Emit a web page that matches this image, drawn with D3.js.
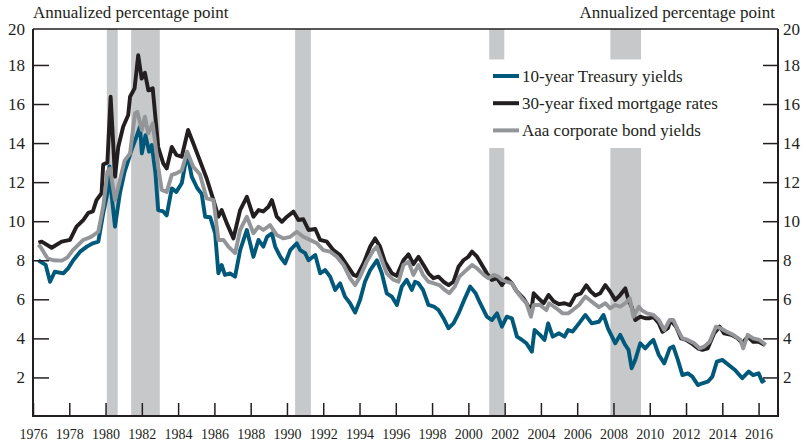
<!DOCTYPE html>
<html>
<head>
<meta charset="utf-8">
<script src="https://cdn.jsdelivr.net/npm/d3@7"></script>
<style>
    body { margin: 0; background: #fff; }
    text { font-family: 'Liberation Serif', 'Times New Roman', serif; fill: #231f20; }
</style>
</head>
<body>
<div id="chart"></div>
<script>
// [year, percent]
const treasury = [
    [1976.3, 8.0], [1976.4, 7.93], [1976.7, 7.76], [1976.94, 6.9], [1977.2, 7.41], [1977.67, 7.33], [1977.95, 7.6],
    [1978.22, 8.0], [1978.6, 8.44], [1978.97, 8.7], [1979.3, 8.87], [1979.6, 8.95], [1979.87, 10.4], [1980.1, 11.43],
    [1980.22, 12.8], [1980.35, 11.2], [1980.52, 9.72], [1980.79, 11.43], [1981.05, 12.53], [1981.25, 13.1],
    [1981.4, 13.56], [1981.67, 14.24], [1981.9, 14.84], [1982.0, 13.47], [1982.2, 14.4], [1982.4, 13.56],
    [1982.55, 13.9], [1982.75, 12.45], [1982.9, 10.57], [1983.18, 10.5], [1983.37, 10.3], [1983.65, 11.68],
    [1983.9, 11.5], [1984.2, 11.94], [1984.5, 13.47], [1984.75, 12.28], [1985.05, 11.7], [1985.3, 11.4],
    [1985.49, 10.23], [1985.77, 10.2], [1986.04, 9.38], [1986.22, 7.33], [1986.4, 7.76], [1986.58, 7.25],
    [1986.86, 7.33], [1987.14, 7.16], [1987.42, 8.52], [1987.79, 9.55], [1988.15, 8.18], [1988.43, 9.04],
    [1988.7, 8.7], [1988.9, 9.2], [1989.17, 9.38], [1989.35, 8.7], [1989.63, 8.18], [1989.9, 7.84],
    [1990.18, 8.52], [1990.54, 8.87], [1990.73, 8.52], [1991.0, 8.36], [1991.19, 8.0], [1991.56, 8.27],
    [1991.83, 7.33], [1992.1, 7.5], [1992.38, 7.16], [1992.66, 6.48], [1992.93, 6.82], [1993.2, 6.14],
    [1993.48, 5.8], [1993.76, 5.32], [1994.03, 5.97], [1994.3, 6.9], [1994.59, 7.5], [1994.96, 8.0],
    [1995.23, 7.33], [1995.5, 6.31], [1995.78, 6.14], [1996.06, 5.71], [1996.33, 6.65], [1996.6, 7.0],
    [1996.88, 6.48], [1997.06, 6.9], [1997.25, 6.82], [1997.5, 6.48], [1997.8, 5.71], [1998.1, 5.63],
    [1998.35, 5.45], [1998.63, 5.03], [1998.9, 4.52], [1999.18, 4.77], [1999.46, 5.28], [1999.73, 5.88],
    [2000.1, 6.65], [2000.4, 6.31], [2000.65, 5.8], [2001.02, 5.11], [2001.3, 4.94], [2001.58, 5.28],
    [2001.85, 4.6], [2002.12, 5.11], [2002.4, 5.03], [2002.68, 4.09], [2002.96, 3.92], [2003.2, 3.75],
    [2003.5, 3.32], [2003.65, 4.43], [2003.95, 4.18], [2004.2, 3.92], [2004.4, 4.77], [2004.65, 4.09],
    [2005.0, 4.26], [2005.3, 4.09], [2005.5, 4.43], [2005.75, 4.35], [2006.1, 4.77], [2006.45, 5.2],
    [2006.8, 4.77], [2007.2, 4.85], [2007.45, 5.2], [2007.7, 4.5], [2008.1, 3.75], [2008.37, 4.18],
    [2008.65, 3.66], [2008.83, 3.41], [2009.0, 2.47], [2009.2, 2.9], [2009.48, 3.75], [2009.75, 3.49],
    [2010.0, 3.75], [2010.2, 3.92], [2010.5, 3.15], [2010.8, 2.72], [2011.1, 3.49], [2011.3, 3.58],
    [2011.55, 2.9], [2011.8, 2.12], [2012.1, 2.21], [2012.35, 2.04], [2012.65, 1.61], [2012.9, 1.7],
    [2013.2, 1.78], [2013.45, 2.04], [2013.7, 2.81], [2014.0, 2.9], [2014.35, 2.64], [2014.7, 2.38],
    [2015.1, 1.96], [2015.45, 2.3], [2015.7, 2.12], [2016.0, 2.21], [2016.2, 1.78], [2016.35, 1.87]
];

const mortgage = [
    [1976.3, 8.9], [1976.48, 8.95], [1977.03, 8.64], [1977.58, 8.95], [1978.04, 9.04], [1978.4, 9.72],
    [1978.77, 10.06], [1979.05, 10.43], [1979.3, 10.5], [1979.5, 11.08], [1979.78, 11.43], [1979.87, 12.9],
    [1980.1, 13.0], [1980.28, 16.37], [1980.52, 12.28], [1980.7, 13.8], [1980.97, 14.84], [1981.25, 15.44],
    [1981.35, 16.37], [1981.6, 16.8], [1981.8, 18.5], [1981.99, 17.3], [1982.17, 17.6], [1982.36, 16.7],
    [1982.6, 16.8], [1982.9, 13.8], [1983.18, 12.96], [1983.37, 12.7], [1983.65, 13.8], [1983.9, 13.4],
    [1984.2, 13.3], [1984.55, 14.67], [1984.83, 14.0], [1985.2, 13.1], [1985.57, 12.2], [1985.95, 11.08],
    [1986.22, 10.23], [1986.4, 10.57], [1986.68, 9.9], [1987.05, 9.12], [1987.42, 10.57], [1987.79, 11.25],
    [1988.15, 10.23], [1988.43, 10.57], [1988.7, 10.5], [1988.98, 10.74], [1989.17, 11.08], [1989.44, 10.23],
    [1989.72, 9.97], [1990.0, 10.23], [1990.36, 10.49], [1990.63, 10.06], [1990.9, 10.1], [1991.19, 9.55],
    [1991.56, 9.6], [1991.83, 9.04], [1992.2, 8.95], [1992.56, 8.52], [1992.93, 8.27], [1993.3, 7.76],
    [1993.67, 7.25], [1993.85, 7.19], [1994.22, 7.84], [1994.59, 8.7], [1994.86, 9.12], [1995.13, 8.7],
    [1995.4, 7.93], [1995.78, 7.33], [1996.05, 7.2], [1996.42, 8.0], [1996.7, 8.3], [1996.97, 7.8],
    [1997.25, 8.18], [1997.53, 7.76], [1997.8, 7.33], [1998.08, 7.08], [1998.35, 7.16], [1998.63, 6.9],
    [1998.91, 6.73], [1999.18, 6.9], [1999.46, 7.67], [1999.73, 8.0], [2000.0, 8.18], [2000.2, 8.44],
    [2000.48, 8.18], [2000.75, 7.76], [2001.02, 7.33], [2001.3, 6.99], [2001.58, 7.08], [2001.85, 6.73],
    [2002.12, 7.08], [2002.4, 6.82], [2002.68, 6.39], [2003.04, 6.05], [2003.32, 5.62], [2003.5, 5.6],
    [2003.6, 6.31], [2003.87, 6.05], [2004.15, 5.8], [2004.42, 6.22], [2004.7, 5.9], [2005.0, 5.75],
    [2005.3, 5.8], [2005.6, 5.7], [2005.9, 6.2], [2006.2, 6.3], [2006.5, 6.72], [2006.75, 6.4],
    [2007.0, 6.2], [2007.27, 6.31], [2007.55, 6.73], [2007.82, 6.39], [2008.1, 5.97], [2008.37, 6.22],
    [2008.65, 6.56], [2008.83, 5.97], [2009.0, 5.62], [2009.2, 4.94], [2009.48, 5.11], [2009.75, 5.03],
    [2010.0, 5.03], [2010.2, 5.11], [2010.5, 4.77], [2010.7, 4.34], [2011.0, 4.52], [2011.15, 4.94],
    [2011.45, 4.6], [2011.73, 4.0], [2012.0, 3.92], [2012.3, 3.75], [2012.65, 3.49], [2012.9, 3.41],
    [2013.2, 3.49], [2013.55, 4.26], [2013.85, 4.6], [2014.1, 4.26], [2014.5, 4.18], [2014.85, 4.0],
    [2015.1, 3.75], [2015.4, 4.09], [2015.7, 3.83], [2016.0, 3.83], [2016.35, 3.66]
];

const aaa = [
    [1976.3, 8.8], [1976.4, 8.7], [1976.8, 8.1], [1977.1, 8.0], [1977.6, 7.98], [1977.9, 8.15], [1978.2, 8.52],
    [1978.77, 9.04], [1979.2, 9.2], [1979.6, 9.46], [1979.87, 10.74], [1980.1, 12.53], [1980.25, 12.7],
    [1980.52, 11.08], [1980.75, 11.94], [1981.05, 13.1], [1981.35, 13.47], [1981.62, 15.52], [1981.75, 15.6],
    [1982.0, 14.67], [1982.17, 15.35], [1982.35, 14.5], [1982.6, 15.0], [1982.9, 12.79], [1983.1, 11.6],
    [1983.37, 11.5], [1983.65, 12.37], [1983.9, 12.45], [1984.2, 12.6], [1984.5, 13.56], [1984.83, 12.79],
    [1985.2, 12.4], [1985.57, 11.17], [1985.95, 11.08], [1986.22, 9.04], [1986.5, 9.04], [1986.77, 8.7],
    [1987.14, 8.36], [1987.42, 9.55], [1987.79, 10.23], [1988.15, 9.38], [1988.43, 9.72], [1988.7, 9.55],
    [1989.07, 9.8], [1989.44, 9.29], [1989.81, 9.12], [1990.18, 9.2], [1990.54, 9.46], [1990.9, 9.2],
    [1991.28, 9.04], [1991.65, 8.87], [1992.0, 8.52], [1992.38, 8.44], [1992.75, 8.18], [1993.12, 7.76],
    [1993.48, 7.08], [1993.76, 6.73], [1994.03, 7.16], [1994.4, 7.93], [1994.77, 8.52], [1994.96, 8.7],
    [1995.23, 8.0], [1995.5, 7.33], [1995.87, 7.0], [1996.15, 6.9], [1996.42, 7.76], [1996.7, 7.93],
    [1996.97, 7.25], [1997.25, 7.76], [1997.5, 7.25], [1997.8, 6.9], [1998.1, 6.82], [1998.4, 6.73],
    [1998.7, 6.48], [1998.95, 6.31], [1999.25, 6.65], [1999.5, 7.16], [1999.8, 7.42], [2000.2, 7.76],
    [2000.48, 7.59], [2000.85, 7.25], [2001.1, 7.08], [2001.4, 7.25], [2001.65, 7.16], [2001.85, 6.99],
    [2002.12, 6.9], [2002.4, 6.82], [2002.68, 6.39], [2002.96, 6.05], [2003.2, 5.8], [2003.45, 5.11],
    [2003.6, 5.71], [2003.95, 5.71], [2004.3, 5.45], [2004.45, 5.8], [2004.85, 5.54], [2005.2, 5.28],
    [2005.5, 5.28], [2005.75, 5.45], [2006.1, 5.71], [2006.45, 6.14], [2006.8, 5.88], [2007.2, 5.6],
    [2007.55, 5.8], [2007.82, 5.54], [2008.1, 5.71], [2008.37, 5.62], [2008.65, 5.8], [2008.9, 6.05],
    [2009.1, 5.11], [2009.4, 5.62], [2009.55, 5.45], [2009.85, 5.28], [2010.2, 5.2], [2010.5, 4.94],
    [2010.8, 4.43], [2011.1, 4.94], [2011.3, 4.94], [2011.55, 4.43], [2011.8, 4.0], [2012.1, 3.92],
    [2012.45, 3.75], [2012.75, 3.49], [2013.0, 3.58], [2013.3, 3.83], [2013.65, 4.6], [2013.9, 4.52],
    [2014.25, 4.34], [2014.6, 4.18], [2015.0, 3.92], [2015.15, 3.49], [2015.4, 4.18], [2015.7, 4.0],
    [2016.05, 3.92], [2016.4, 3.66]
];

// recessions (shaded bars)
const recStart = [1980.07, 1981.41, 1990.45, 2001.15, 2007.83];
const recEnd = [1980.67, 1982.99, 1991.32, 2001.98, 2009.52];

const seriesNames = ['10-year Treasury yields', '30-year fixed mortgage rates', 'Aaa corporate bond yields'];
const seriesColors = ['#00597b', '#231f20', '#939598'];

const yTicks = [2, 4, 6, 8, 10, 12, 14, 16, 18];
const xTicks = d3.range(1976, 2017, 2);
const axisTitle = 'Annualized percentage point';

const width = 806;
const height = 442;
const plotLeft = 33, plotRight = 778, plotTop = 29, plotBottom = 416;

const svg = d3.select('#chart').append('svg').attr('width', width).attr('height', height);

const x = d3.scaleLinear().domain([1976, 2017.07]).range([plotLeft, plotRight]);
const y = d3.scaleLinear().domain([0, 20]).range([416.5, 25.9]);

// recession bars
svg.selectAll('.rec')
    .data(recStart.map((s, i) => [s, recEnd[i]]))
    .enter()
    .append('rect')
    .attr('class', 'rec')
    .attr('x', (d) => x(d[0]))
    .attr('width', (d) => x(d[1]) - x(d[0]))
    .attr('y', plotTop)
    .attr('height', plotBottom - plotTop)
    .attr('fill', '#c7c8ca');

// white box behind legend
svg.append('rect').attr('x', 484).attr('y', 59.5).attr('width', 240).attr('height', 88.5).attr('fill', '#fff');

// lines
const line = d3.line().x((d) => x(d[0])).y((d) => y(d[1]));
[treasury, mortgage, aaa].forEach((s, i) => {
    svg.append('path')
        .datum(s)
        .attr('d', line)
        .attr('fill', 'none')
        .attr('stroke', seriesColors[i])
        .attr('stroke-width', 3.9)
        .attr('stroke-linejoin', 'round');
});

// axes
const styleAxis = (g) => {
    g.select('.domain').remove();
    g.selectAll('line').attr('stroke', '#231f20').attr('stroke-width', 1.5);
    g.selectAll('text').style('font-family', "'Liberation Serif', serif").style('fill', '#231f20');
};

svg.append('g')
    .attr('transform', `translate(${plotLeft},0)`)
    .call(d3.axisLeft(y).tickValues(yTicks).tickSize(-16).tickPadding(8))
    .attr('font-size', 17)
    .call(styleAxis);

svg.append('g')
    .attr('transform', `translate(${plotRight},0)`)
    .call(d3.axisRight(y).tickValues(yTicks).tickSize(-15).tickPadding(5))
    .attr('font-size', 17)
    .call(styleAxis);

svg.append('g')
    .attr('transform', `translate(0,${plotBottom})`)
    .call(d3.axisBottom(x).tickValues(xTicks).tickFormat(d3.format('d')).tickSize(-13).tickPadding(13))
    .attr('font-size', 14)
    .call(styleAxis);

// top labels "20"
svg.append('text').attr('x', plotLeft - 8).attr('y', plotTop + 6).attr('text-anchor', 'end').style('font-size', '17px').text('20');
svg.append('text').attr('x', plotRight + 5).attr('y', plotTop + 6).style('font-size', '17px').text('20');

// frame
const frame = svg.append('g').attr('stroke', '#231f20');
frame.append('line').attr('x1', plotLeft).attr('x2', plotRight).attr('y1', plotTop).attr('y2', plotTop).attr('stroke-width', 1.3);
frame.append('line').attr('x1', plotLeft).attr('x2', plotRight).attr('y1', plotBottom).attr('y2', plotBottom).attr('stroke-width', 2);
frame.append('line').attr('x1', plotLeft).attr('x2', plotLeft).attr('y1', plotTop).attr('y2', plotBottom + 1).attr('stroke-width', 2);
frame.append('line').attr('x1', plotRight).attr('x2', plotRight).attr('y1', plotTop).attr('y2', plotBottom + 1).attr('stroke-width', 2);

// axis titles
svg.append('text').attr('x', plotLeft).attr('y', 18).style('font-size', '17px').text(axisTitle);
svg.append('text').attr('x', 775).attr('y', 18).attr('text-anchor', 'end').style('font-size', '17px').text(axisTitle);

// legend
const legend = svg.append('g');
seriesNames.forEach((name, i) => {
    const ly = 76 + i * 27.2;
    legend.append('line')
        .attr('x1', 493).attr('x2', 519)
        .attr('y1', ly).attr('y2', ly)
        .attr('stroke', seriesColors[i])
        .attr('stroke-width', 4);
    legend.append('text')
        .attr('x', 522)
        .attr('y', ly + 5.7)
        .style('font-size', '17px')
        .text(name);
});
</script>
</body>
</html>
